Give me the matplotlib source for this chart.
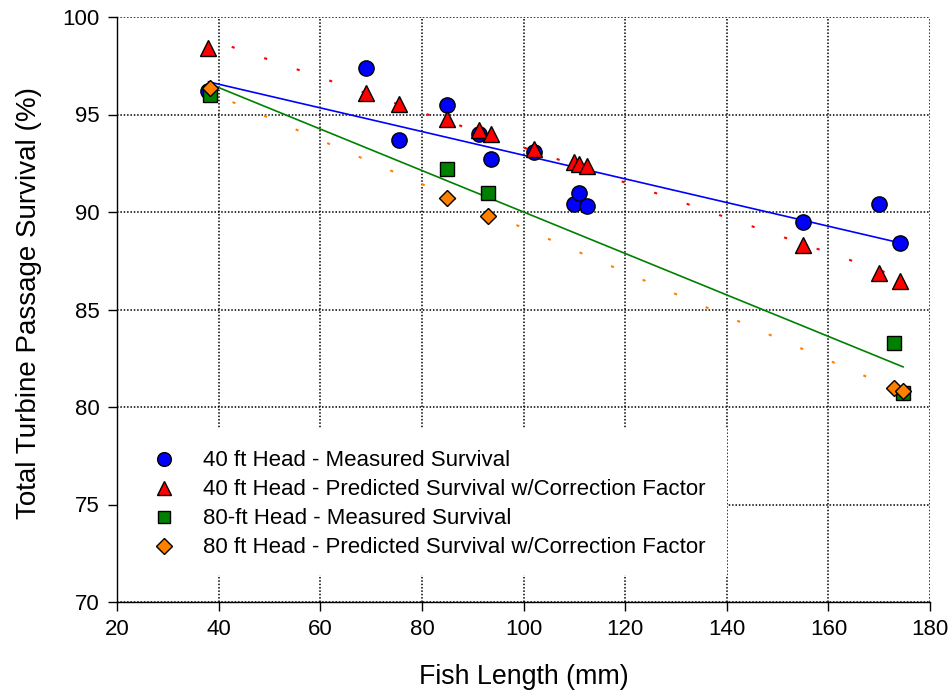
import numpy as np
import matplotlib
matplotlib.use("Agg")
import matplotlib.pyplot as plt
from matplotlib.patches import Rectangle

plt.rcParams["font.family"] = ["Liberation Sans", "DejaVu Sans"]

# fish length (mm)
len_40 = [38.0, 69.0, 75.5, 85.0, 91.3, 93.6, 102.0, 110.0, 111.0, 112.5, 155.0, 170.0, 174.0]
len_80 = [38.3, 85.0, 93.0, 173.0, 174.7]

# survival (%)
meas_40 = [96.2, 97.4, 93.7, 95.5, 94.0, 92.7, 93.1, 90.4, 91.0, 90.3, 89.5, 90.4, 88.4]
pred_40 = [98.4, 96.1, 95.55, 94.75, 94.2, 94.0, 93.25, 92.55, 92.45, 92.35, 88.3, 86.85, 86.45]
meas_80 = [96.0, 92.2, 91.0, 83.3, 80.7]
pred_80 = [96.35, 90.7, 89.8, 81.0, 80.8]

LABELS = [
    "40 ft Head - Measured Survival",
    "40 ft Head - Predicted Survival w/Correction Factor",
    "80-ft Head - Measured Survival",
    "80 ft Head - Predicted Survival w/Correction Factor",
]

BLUE = "#0000ff"
RED = "#ff0000"
GREEN = "#008000"
ORANGE = "#ff8000"


def fit_line(x, y):
    x = np.asarray(x)
    slope, icpt = np.polyfit(x, np.asarray(y), 1)
    xs = np.array([x.min(), x.max()])
    return xs, icpt + slope * xs


fig = plt.figure(figsize=(9.5, 6.98), dpi=100)
ax = fig.add_axes([117 / 950, 1 - 602 / 698, 813 / 950, 585 / 698])

ax.set_xlim(20, 180)
ax.set_ylim(70, 100)
ax.set_xticks(np.arange(20, 181, 20))
ax.set_yticks(np.arange(70, 101, 5))

ax.grid(True, color="black", linestyle=(0, (1, 1.2)), linewidth=1.1, zorder=0)
ax.set_axisbelow(True)
for side in ["top", "right"]:
    ax.spines[side].set_visible(False)
for side in ["left", "bottom"]:
    ax.spines[side].set_linewidth(1.0)
ax.tick_params(direction="out", length=6.5, width=1.0, labelsize=16, pad=6)

# white panel behind the legend, hiding the grid
ax.add_patch(Rectangle((0, 0.046), 0.750, 0.251, transform=ax.transAxes,
                       facecolor="white", edgecolor="none", zorder=1))

# regression lines
xs, ys = fit_line(len_40, meas_40)
ax.plot(xs, ys, color=BLUE, linewidth=1.2, zorder=2)
xs, ys = fit_line(len_80, meas_80)
ax.plot(xs, ys, color=GREEN, linewidth=1.2, zorder=2)
xs, ys = fit_line(len_40, pred_40)
ax.plot(xs, ys, color=RED, linewidth=1.5, linestyle=(4.7, (1.5, 15)),
        solid_capstyle="butt", zorder=2)
xs, ys = fit_line(len_80, pred_80)
ax.plot(xs, ys, color=ORANGE, linewidth=1.5, linestyle=(4.7, (1.5, 15)),
        solid_capstyle="butt", zorder=2)

mk = dict(linestyle="none", markeredgecolor="black", markeredgewidth=1.0, zorder=3)
ax.plot(len_40, meas_40, marker="o", markersize=11, markerfacecolor=BLUE,
        label=LABELS[0], **mk)
ax.plot(len_40, pred_40, marker="^", markersize=11, markerfacecolor=RED,
        label=LABELS[1], **mk)
ax.plot(len_80, meas_80, marker="s", markersize=9.5, markerfacecolor=GREEN,
        label=LABELS[2], **mk)
ax.plot(len_80, pred_80, marker="D", markersize=8.5, markerfacecolor=ORANGE,
        label=LABELS[3], **mk)

leg = ax.legend(loc="upper left", bbox_to_anchor=(0.0373, 0.259), frameon=False,
                fontsize=16, borderaxespad=0, borderpad=0, handlelength=1.5,
                handletextpad=1.0, labelspacing=0.36, markerscale=0.9)

ax.set_xlabel("Fish Length (mm)", fontsize=19.3)
ax.set_ylabel("Total Turbine Passage Survival (%)", fontsize=20)
ax.xaxis.set_label_coords(0.5, -0.106)
ax.yaxis.set_label_coords(-0.0923, 0.511)

fig.savefig("out.png", dpi=100)
